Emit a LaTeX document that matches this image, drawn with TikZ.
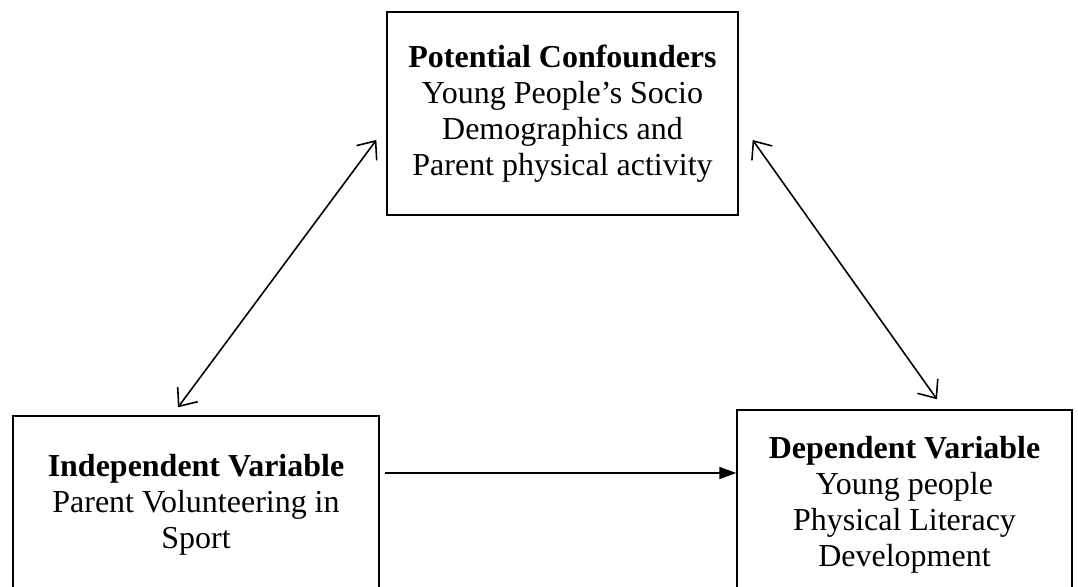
\documentclass[tikz,border=0pt]{standalone}
\usepackage{fontspec}
\setmainfont{Liberation Serif}
\usetikzlibrary{arrows.meta}

\begin{document}
\begin{tikzpicture}[x=0.02cm,y=0.02cm,
    varbox/.style={draw,line width=0.8pt,align=center,inner sep=0pt,
      font=\fontsize{18.2}{20.5}\selectfont},
    link/.style={line width=0.9pt,{Straight Barb[length=0.3cm,width=0.5cm]}-{Straight Barb[length=0.3cm,width=0.5cm]}},
    effect/.style={line width=0.9pt,-{Triangle[length=0.34cm,width=0.24cm]}}]
  \useasboundingbox (0,0) rectangle (1078,587);
  \clip (0,0) rectangle (1078,587);

  \node[varbox,minimum width=7.02cm,minimum height=4.06cm] (conf) at (562.5,473.5)
    {\textbf{Potential Confounders}\\Young People's Socio\\Demographics and\\Parent physical activity};
  \node[varbox,minimum width=7.32cm,minimum height=3.56cm] (indep) at (196,82)
    {\textbf{Independent Variable}\\Parent Volunteering in\\Sport};
  \node[varbox,minimum width=6.7cm,minimum height=3.8cm] (dep) at (904.5,82)
    {\textbf{Dependent Variable}\\Young people\\Physical Literacy\\Development};

  \draw[link] ([xshift=-0.2cm,yshift=-0.53cm]conf.west) -- ([xshift=-0.36cm,yshift=0.16cm]indep.north);
  \draw[link] ([xshift=0.28cm,yshift=-0.53cm]conf.east) -- ([xshift=0.65cm,yshift=0.2cm]dep.north);
  \draw[effect] ([xshift=0.1cm,yshift=0.64cm]indep.east) -- ([yshift=0.64cm]dep.west);
\end{tikzpicture}
\end{document}
